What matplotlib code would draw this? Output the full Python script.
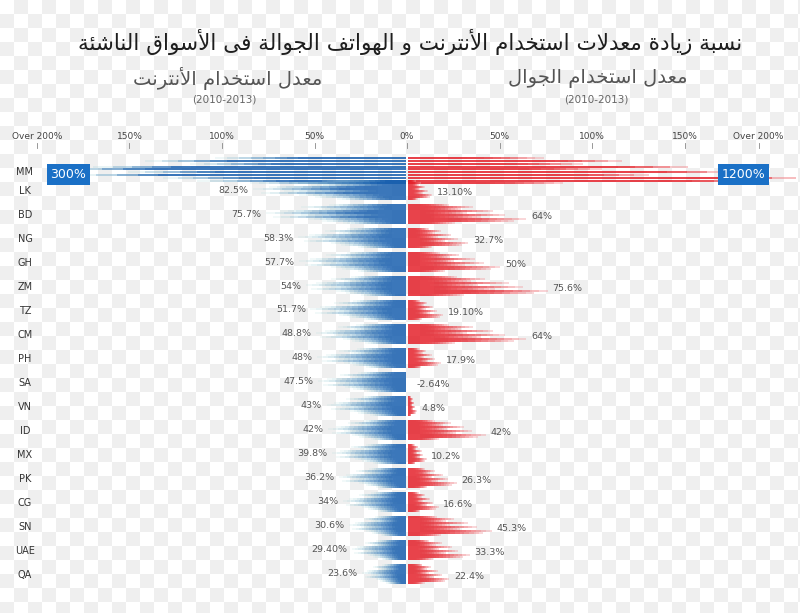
import numpy as np
import matplotlib
matplotlib.use("Agg")
import matplotlib.pyplot as plt
from matplotlib.collections import LineCollection
from matplotlib.colors import to_rgb

# data
countries = ['MM', 'LK', 'BD', 'NG', 'GH', 'ZM', 'TZ', 'CM', 'PH', 'SA',
             'VN', 'ID', 'MX', 'PK', 'CG', 'SN', 'UAE', 'QA']
internet = [300, 82.5, 75.7, 58.3, 57.7, 54, 51.7, 48.8, 48, 47.5,
            43, 42, 39.8, 36.2, 34, 30.6, 29.4, 23.6]
mobile = [1200, 13.1, 64, 32.7, 50, 75.6, 19.1, 64, 17.9, -2.64,
          4.8, 42, 10.2, 26.3, 16.6, 45.3, 33.3, 22.4]
internet_labels = ['300%', '82.5%', '75.7%', '58.3%', '57.7%', '54%', '51.7%',
                   '48.8%', '48%', '47.5%', '43%', '42%', '39.8%', '36.2%',
                   '34%', '30.6%', '29.40%', '23.6%']
mobile_labels = ['1200%', '13.10%', '64%', '32.7%', '50%', '75.6%', '19.10%',
                 '64%', '17.9%', '-2.64%', '4.8%', '42%', '10.2%', '26.3%',
                 '16.6%', '45.3%', '33.3%', '22.4%']
tick_vals = [-200, -150, -100, -50, 0, 50, 100, 150, 190]
tick_labels = ['Over 200%', '150%', '100%', '50%', '0%', '50%', '100%', '150%', 'Over 200%']

title = "نسبة زيادة معدلات استخدام الأنترنت و الهواتف الجوالة فى الأسواق الناشئة"
head_left = "معدل استخدام الأنترنت"
head_right = "معدل استخدام الجوال"
years = "(2010-2013)"

# --- small arabic shaper (matplotlib has no shaping / bidi) ---
FORMS = {
    'ا': ('\uFE8D', '\uFE8E', None, None),
    'أ': ('\uFE83', '\uFE84', None, None),
    'ب': ('\uFE8F', '\uFE90', '\uFE91', '\uFE92'),
    'ة': ('\uFE93', '\uFE94', None, None),
    'ت': ('\uFE95', '\uFE96', '\uFE97', '\uFE98'),
    'ج': ('\uFE9D', '\uFE9E', '\uFE9F', '\uFEA0'),
    'خ': ('\uFEA5', '\uFEA6', '\uFEA7', '\uFEA8'),
    'د': ('\uFEA9', '\uFEAA', None, None),
    'ر': ('\uFEAD', '\uFEAE', None, None),
    'ز': ('\uFEAF', '\uFEB0', None, None),
    'س': ('\uFEB1', '\uFEB2', '\uFEB3', '\uFEB4'),
    'ش': ('\uFEB5', '\uFEB6', '\uFEB7', '\uFEB8'),
    'ع': ('\uFEC9', '\uFECA', '\uFECB', '\uFECC'),
    'ف': ('\uFED1', '\uFED2', '\uFED3', '\uFED4'),
    'ق': ('\uFED5', '\uFED6', '\uFED7', '\uFED8'),
    'ل': ('\uFEDD', '\uFEDE', '\uFEDF', '\uFEE0'),
    'م': ('\uFEE1', '\uFEE2', '\uFEE3', '\uFEE4'),
    'ن': ('\uFEE5', '\uFEE6', '\uFEE7', '\uFEE8'),
    'ه': ('\uFEE9', '\uFEEA', '\uFEEB', '\uFEEC'),
    'و': ('\uFEED', '\uFEEE', None, None),
    'ى': ('\uFEEF', '\uFEF0', None, None),
    'ي': ('\uFEF1', '\uFEF2', '\uFEF3', '\uFEF4'),
    'ئ': ('\uFE89', '\uFE8A', '\uFE8B', '\uFE8C'),
    'لا': ('\uFEFB', '\uFEFC', None, None),
    'لأ': ('\uFEF7', '\uFEF8', None, None),
}


def shape(s):
    toks = []
    i = 0
    while i < len(s):
        if s[i] == 'ل' and i + 1 < len(s) and s[i + 1] in 'اأ':
            toks.append(s[i:i + 2])
            i += 2
        else:
            toks.append(s[i])
            i += 1
    out = []
    for j, t in enumerate(toks):
        if t not in FORMS:
            out.append(t)
            continue
        prev = toks[j - 1] if j > 0 else None
        nxt = toks[j + 1] if j + 1 < len(toks) else None
        jp = prev in FORMS and FORMS[prev][2] is not None
        jn = FORMS[t][2] is not None and nxt in FORMS
        f = FORMS[t]
        if jp and jn:
            out.append(f[3])
        elif jp:
            out.append(f[1])
        elif jn:
            out.append(f[2])
        else:
            out.append(f[0])
    return ''.join(out)[::-1]


W, H = 800, 613
fig = plt.figure(figsize=(W / 100, H / 100), dpi=100)

# checkered backdrop
bg = fig.add_axes([0, 0, 1, 1])
cell = 14
nr, nc = H // cell + 1, W // cell + 1
chk = (np.add.outer(np.arange(nr), np.arange(nc)) % 2).astype(float)
rgb = np.ones((nr, nc, 3))
rgb[chk == 1] = to_rgb('#efefef')
bg.imshow(rgb, extent=(0, nc * cell, nr * cell, 0), interpolation='nearest')
bg.set_xlim(0, W)
bg.set_ylim(H, 0)
bg.axis('off')

ax = fig.add_axes([0, 0, 1, 1])
ax.patch.set_alpha(0)
ppx = 1.85
ax.set_xlim(-407 / ppx, (W - 407) / ppx)
ax.set_ylim((H - 166) / 24, -166 / 24)
ax.axis('off')

blue = np.array(to_rgb('#145cad'))
teal = np.array(to_rgb('#c4e8e4'))
red = np.array(to_rgb('#e41e27'))
pink = np.array(to_rgb('#f5b0b4'))

left_fan = [0.55, 0.75, 0.62, 0.9, 1.0, 0.8, 0.95, 0.7, 0.6, 0.45]
right_fan = [0.35, 0.55, 0.45, 0.72, 0.5, 0.82, 0.62, 1.0, 0.9, 0.4]


def bundle(y, length, side, fan, half):
    if length <= 0:
        return
    nseg = 16
    segs, cols = [], []
    for f, dy in zip(fan, np.linspace(-half, half, len(fan))):
        L = length * f
        fade = min(0.8 * L, 50)
        t = np.linspace(0, 1, nseg + 1)
        d = t * L
        xs = side * (0.5 + d)
        for k in range(nseg):
            dm = (d[k] + d[k + 1]) / 2
            u = np.clip((dm - (L - fade)) / fade, 0, 1)
            segs.append([(xs[k], y + dy), (xs[k + 1], y + dy)])
            if side < 0:
                c = blue + (teal - blue) * u ** 1.2
                a = 1 - 0.85 * u ** 2
            else:
                c = red + (pink - red) * u ** 2.5
                a = 1 - 0.55 * u ** 3
            cols.append((*c, a))
    ax.add_collection(LineCollection(segs, colors=cols, linewidths=1.2,
                                     capstyle='butt'))


lab_font = 'DejaVu Sans'
for i, c in enumerate(countries):
    y = i + (0.2 if i == 0 else 0)
    half = 0.52 if i == 0 else 0.375
    lv = min(internet[i], 188)
    rv = min(mobile[i], 210)
    bundle(y, lv, -1, left_fan, half)
    bundle(y, max(rv, 0), 1, right_fan, half)
    ax.text(-206.5, y + 0.05, c, ha='center', va='center', fontsize=7,
            color='#333333')
    if i == 0:
        ax.text(-183, y + 0.15, internet_labels[i], ha='center', va='center',
                fontsize=9, color='white', family=lab_font,
                bbox=dict(boxstyle='square,pad=0.3', fc='#1a70c6', ec='none'))
        ax.text(182, y + 0.15, mobile_labels[i], ha='center', va='center',
                fontsize=9, color='white', family=lab_font,
                bbox=dict(boxstyle='square,pad=0.3', fc='#1a70c6', ec='none'))
    else:
        ax.text(-(internet[i] + 3), y, internet_labels[i], ha='right',
                va='center', fontsize=6.8, color='#555555', family=lab_font)
        ax.text(max(mobile[i], 2) + 3, y + 0.1, mobile_labels[i], ha='left',
                va='center', fontsize=6.8, color='#555555', family=lab_font)

# top scale
for v, lab in zip(tick_vals, tick_labels):
    ax.text(v, (136 - 166) / 24, lab, ha='center', va='center', fontsize=6.5,
            color='#444444', family=lab_font)
    ax.plot([v, v], [(143 - 166) / 24, (148 - 166) / 24], color='#888888', lw=0.6)

fig.text(410 / W, 1 - 42 / H, shape(title), ha='center', va='center',
         fontsize=15.5, color='#1e1e1e', family='DejaVu Sans')
fig.text(228 / W, 1 - 78 / H, shape(head_left), ha='center', va='center',
         fontsize=14, color='#555555', family='DejaVu Sans')
fig.text(598 / W, 1 - 78 / H, shape(head_right), ha='center', va='center',
         fontsize=14, color='#555555', family='DejaVu Sans')
fig.text(224 / W, 1 - 99 / H, years, ha='center', va='center', fontsize=7.5,
         color='#666666', family=lab_font)
fig.text(596 / W, 1 - 99 / H, years, ha='center', va='center', fontsize=7.5,
         color='#666666', family=lab_font)

fig.savefig('out.png', dpi=100)
